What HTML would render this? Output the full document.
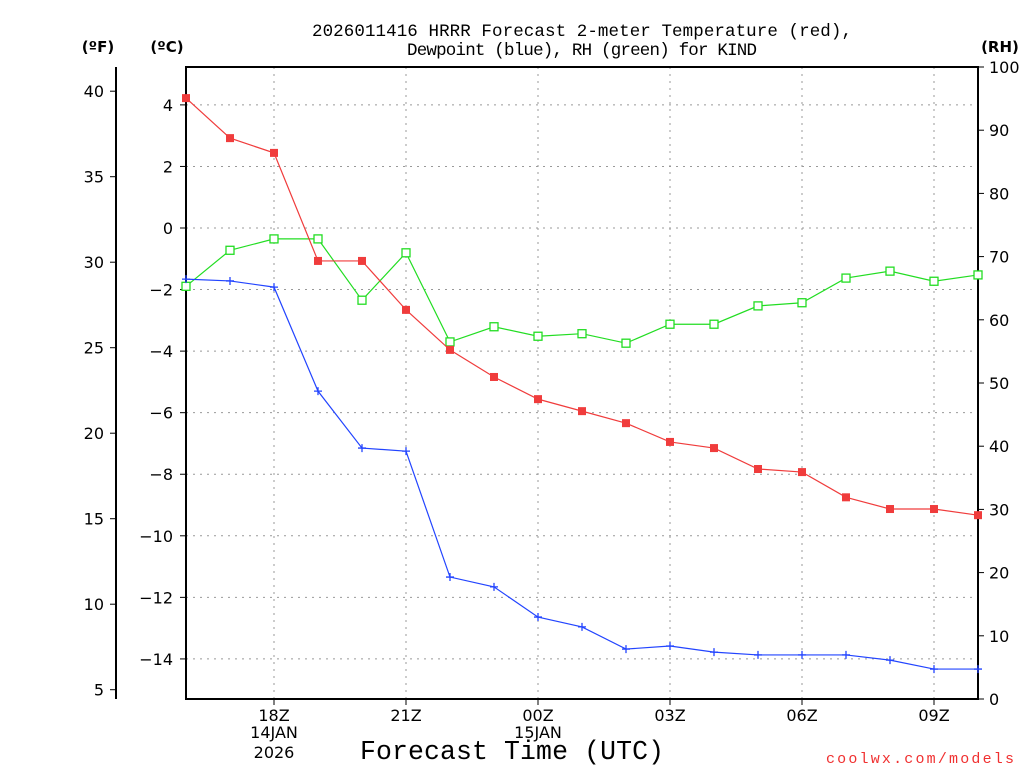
<!DOCTYPE html>
<html><head><meta charset="utf-8"><style>
body{margin:0;background:#fff;}
svg text{font-family:"DejaVu Sans","Liberation Sans",sans-serif;}
svg text.mono{font-family:"Liberation Mono","DejaVu Sans Mono",monospace;}
</style></head><body>
<svg id="chart" width="1024" height="768" xmlns="http://www.w3.org/2000/svg">
<rect width="1024" height="768" fill="#fff"/>
<g id="grid"></g><g id="axes"></g><g id="series"></g>
<text class="mono" x="582" y="36" text-anchor="middle" font-size="17.5" textLength="540">2026011416 HRRR Forecast 2-meter Temperature (red),</text>
<text class="mono" x="582" y="55" text-anchor="middle" font-size="17.5" textLength="350">Dewpoint (blue), RH (green) for KIND</text>
<text x="98" y="52" text-anchor="middle" font-size="15" font-weight="bold">(ºF)</text>
<text x="167" y="52" text-anchor="middle" font-size="15" font-weight="bold">(ºC)</text>
<text x="1000" y="52" text-anchor="middle" font-size="15" font-weight="bold">(RH)</text>
<text class="mono" x="512" y="759" text-anchor="middle" font-size="26.5" textLength="304">Forecast Time (UTC)</text>
<text class="mono" x="826" y="763" font-size="15" textLength="188" fill="#f03030">coolwx.com/models</text>
</svg>
<script>
const hours=["16Z","17Z","18Z","19Z","20Z","21Z","22Z","23Z","00Z","01Z","02Z","03Z","04Z","05Z","06Z","07Z","08Z","09Z","10Z"];
const tempC=[4.22,2.92,2.44,-1.07,-1.07,-2.66,-3.96,-4.84,-5.56,-5.95,-6.34,-6.95,-7.15,-7.83,-7.93,-8.75,-9.13,-9.13,-9.33];
const dewC=[-1.66,-1.72,-1.92,-5.30,-7.15,-7.25,-11.34,-11.66,-12.64,-12.96,-13.68,-13.58,-13.78,-13.87,-13.87,-13.87,-14.04,-14.33,-14.33];
const rh=[65.3,71.0,72.8,72.8,63.1,70.6,56.5,58.9,57.4,57.8,56.3,59.3,59.3,62.2,62.7,66.6,67.7,66.1,67.1];
const cTicks=[4,2,0,-2,-4,-6,-8,-10,-12,-14];
const fTicks=[40,35,30,25,20,15,10,5];
const rhTicks=[0,10,20,30,40,50,60,70,80,90,100];
const xTickLabels=[[2,"18Z"],[5,"21Z"],[8,"00Z"],[11,"03Z"],[14,"06Z"],[17,"09Z"]];
const L=186,R=978,T=67,B=699;
const NS="http://www.w3.org/2000/svg";
const xs=i=>L+i*(R-L)/(hours.length-1);
const yc=c=>228-c*30.78;
const yf=f=>yc((f-32)/1.8);
const yr=v=>B-v*(B-T)/100;
function mk(par,tag,a,txt){const e=document.createElementNS(NS,tag);for(const k in a)e.setAttribute(k,a[k]);if(txt!==undefined)e.textContent=txt;document.getElementById(par).appendChild(e);return e;}
const dash={stroke:"#999","stroke-width":1,"stroke-dasharray":"2,5"};
cTicks.forEach(c=>{const y=yc(c);
 const g=mk("grid","line",Object.assign({x1:L,x2:R,y1:y,y2:y},dash));
 
 
 mk("axes","line",{x1:L-6,x2:L,y1:y,y2:y,stroke:"#000"});
 const tx=mk("axes","text",{x:L-13,y:y+6,"text-anchor":"end","font-size":16},(c<0?"\u2212"+(-c):c));
 
 
});
xTickLabels.forEach(([i,l])=>{const x=xs(i);
 const g=mk("grid","line",Object.assign({x1:x,x2:x,y1:T,y2:B},dash));
 
 
 mk("axes","line",{x1:x,x2:x,y1:B,y2:B+6,stroke:"#000"});
 const tx=mk("axes","text",{x:x,y:B+22,"text-anchor":"middle","font-size":16},l);
 
 
});
[[2,"14JAN",738],[2,"2026",758],[8,"15JAN",738]].forEach(([i,l,y])=>{
 const tx=mk("axes","text",{x:xs(i),y:y,"text-anchor":"middle","font-size":16},l);
 
 
});
fTicks.forEach(f=>{const y=yf(f);
 mk("axes","line",{x1:110,x2:116,y1:y,y2:y,stroke:"#000"});
 const tx=mk("axes","text",{x:104,y:y+6,"text-anchor":"end","font-size":16},f);
 
 
});
rhTicks.forEach(v=>{const y=yr(v);
 mk("axes","line",{x1:R,x2:R+6,y1:y,y2:y,stroke:"#000"});
 const tx=mk("axes","text",{x:989,y:y+6,"font-size":16},v);
 
 
});
const fr=mk("axes","rect",{x:L,y:T,width:R-L,height:B-T,fill:"none",stroke:"#000","stroke-width":2});


mk("axes","line",{x1:116,x2:116,y1:T,y2:B,stroke:"#000","stroke-width":2});
function series(vals,yfn,color,marker,name){
 const pts=vals.map((v,i)=>xs(i)+","+yfn(v)).join(" ");
 const pl=mk("series","polyline",{points:pts,fill:"none",stroke:color,"stroke-width":1.2});
 
 
 vals.forEach((v,i)=>{const x=xs(i),y=yfn(v);let m;
  if(marker==="fill")m=mk("series","rect",{x:x-4,y:y-4,width:8,height:8,fill:color});
  else if(marker==="open")m=mk("series","rect",{x:x-4,y:y-4,width:8,height:8,fill:"#fff",stroke:color,"stroke-width":1.3});
  else m=mk("series","path",{d:`M${x-4},${y}H${x+4}M${x},${y-4}V${y+4}`,stroke:color,"stroke-width":1.3});
  
  
 });
}
series(rh,yr,"#22dd22","open","rh");
series(dewC,yc,"#2244ff","plus","dewpoint");
series(tempC,yc,"#f03c3c","fill","temperature");
</script>
</body></html>
